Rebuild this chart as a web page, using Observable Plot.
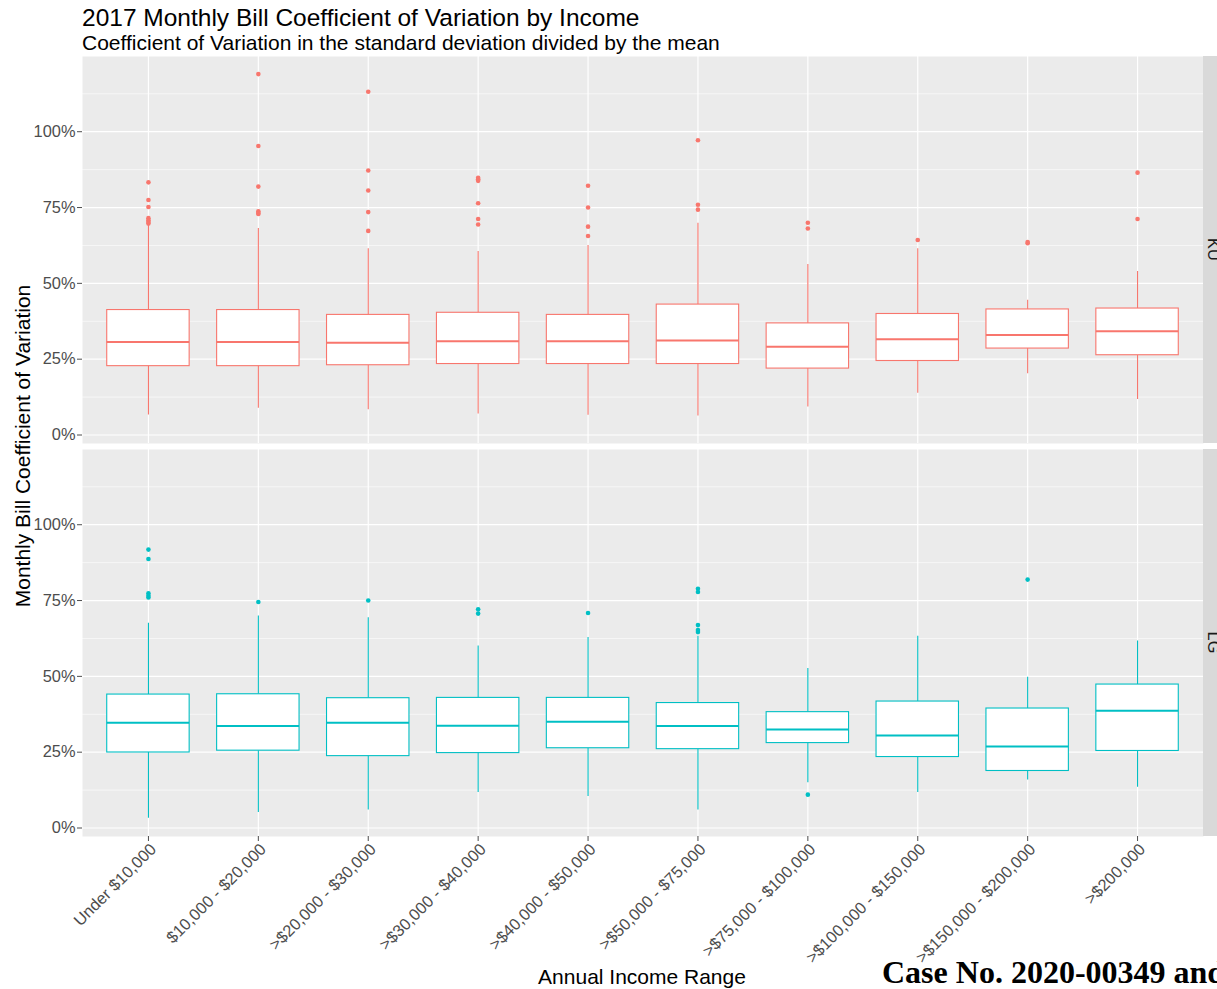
<!DOCTYPE html>
<html>
<head>
<meta charset="utf-8">
<script src="https://cdn.jsdelivr.net/npm/d3@7"></script>
<script src="https://cdn.jsdelivr.net/npm/@observablehq/plot@0.6"></script>
<style>
  html, body { margin: 0; padding: 0; background: #fff; }
  body { width: 1217px; height: 989px; overflow: hidden; position: relative; font-family: "Liberation Sans", Arial, sans-serif; }
  .t { position: absolute; white-space: nowrap; line-height: 1; color: #000; }
  #chart { position: absolute; left: 0; top: 52px; }
</style>
</head>
<body>
<div class="t" style="left:82px; top:6px; font-size:24.5px;">2017 Monthly Bill Coefficient of Variation by Income</div>
<div class="t" style="left:82px; top:32px; font-size:21px;">Coefficient of Variation in the standard deviation divided by the mean</div>
<div id="chart"></div>
<div class="t" style="left:642px; top:966px; font-size:21px; transform:translateX(-50%);">Annual Income Range</div>
<div class="t" style="left:882px; top:956px; font-size:32px; font-family:'Liberation Serif','Times New Roman',serif; font-weight:bold;">Case No. 2020-00349 and</div>
<script>
const categories = ["Under $10,000", "$10,000 - $20,000", ">$20,000 - $30,000", ">$30,000 - $40,000", ">$40,000 - $50,000", ">$50,000 - $75,000", ">$75,000 - $100,000", ">$100,000 - $150,000", ">$150,000 - $200,000", ">$200,000"];
const utilities = ["KU", "LG"];
const utilityColors = ["#F8766D", "#00BFC4"];
const yTicksMajor = [0, 0.25, 0.5, 0.75, 1];
const yTicksMinor = [0.125, 0.375, 0.625, 0.875, 1.125];

// KU
const kuLow = [0.066, 0.088, 0.083, 0.069, 0.065, 0.063, 0.092, 0.138, 0.202, 0.117];
const kuQ1  = [0.227, 0.227, 0.230, 0.234, 0.234, 0.234, 0.219, 0.244, 0.285, 0.263];
const kuMed = [0.307, 0.307, 0.304, 0.309, 0.309, 0.312, 0.291, 0.316, 0.330, 0.342];
const kuQ3  = [0.412, 0.412, 0.396, 0.403, 0.396, 0.430, 0.368, 0.399, 0.414, 0.417];
const kuHigh= [0.692, 0.681, 0.614, 0.605, 0.625, 0.698, 0.562, 0.614, 0.444, 0.539];
const kuOutliers = [
  [0.833, 0.775, 0.752, 0.715, 0.708, 0.702, 0.697],
  [1.19, 0.953, 0.819, 0.738, 0.732, 0.729],
  [1.132, 0.872, 0.806, 0.735, 0.673],
  [0.848, 0.843, 0.838, 0.764, 0.712, 0.694],
  [0.822, 0.750, 0.687, 0.656],
  [0.972, 0.759, 0.743],
  [0.700, 0.681],
  [0.643],
  [0.636, 0.632],
  [0.865, 0.712]
];

// LG
const lgLow = [0.032, 0.051, 0.059, 0.117, 0.104, 0.059, 0.149, 0.117, 0.158, 0.134];
const lgQ1  = [0.249, 0.255, 0.237, 0.247, 0.263, 0.260, 0.280, 0.234, 0.188, 0.254];
const lgMed = [0.347, 0.336, 0.347, 0.337, 0.350, 0.336, 0.325, 0.305, 0.269, 0.387];
const lgQ3  = [0.440, 0.441, 0.428, 0.429, 0.429, 0.412, 0.382, 0.417, 0.394, 0.473];
const lgHigh= [0.675, 0.699, 0.693, 0.600, 0.628, 0.632, 0.526, 0.632, 0.497, 0.617];
const lgOutliers = [
  [0.918, 0.887, 0.774, 0.766, 0.760],
  [0.745],
  [0.750],
  [0.721, 0.707],
  [0.709],
  [0.789, 0.778, 0.669, 0.653, 0.646],
  [0.110],
  [],
  [0.819],
  []
];

const series = {
  KU: {low: kuLow, q1: kuQ1, med: kuMed, q3: kuQ3, high: kuHigh, out: kuOutliers},
  LG: {low: lgLow, q1: lgQ1, med: lgMed, q3: lgQ3, high: lgHigh, out: lgOutliers}
};
const boxes = [];
const outliers = [];
for (const u of utilities) {
  const s = series[u];
  categories.forEach((c, i) => {
    boxes.push({utility: u, cat: c, low: s.low[i], q1: s.q1[i], med: s.med[i], q3: s.q3[i], high: s.high[i]});
    for (const v of s.out[i]) outliers.push({utility: u, cat: c, v});
  });
}

const W = 1217, H = 937;
const chart = Plot.plot({
  width: W, height: H,
  marginLeft: 82, marginRight: 14, marginTop: 4, marginBottom: 153,
  style: {fontFamily: "'Liberation Sans', Arial, sans-serif", background: "transparent"},
  x: {type: "band", domain: categories, paddingInner: 0.25, paddingOuter: 0.225, round: false, label: null},
  y: {domain: [-0.028, 1.248], label: null},
  fy: {domain: utilities, paddingInner: 0.0153, paddingOuter: 0, round: false, axis: null, label: null},
  color: {domain: utilities, range: utilityColors},
  marks: [
    Plot.frame({fill: "#EBEBEB", stroke: "none"}),
    Plot.ruleY(yTicksMinor, {stroke: "#fff", strokeWidth: 0.6}),
    Plot.ruleY(yTicksMajor, {stroke: "#fff", strokeWidth: 1.2}),
    Plot.ruleX(categories, {x: d => d, stroke: "#fff", strokeWidth: 1.2}),
    Plot.ruleX(boxes, {x: "cat", y1: "low", y2: "q1", fy: "utility", stroke: "utility", strokeWidth: 1.1}),
    Plot.ruleX(boxes, {x: "cat", y1: "q3", y2: "high", fy: "utility", stroke: "utility", strokeWidth: 1.1}),
    Plot.barY(boxes, {x: "cat", y1: "q1", y2: "q3", fy: "utility", fill: "#fff", stroke: "utility", strokeWidth: 1.1}),
    Plot.tickY(boxes, {x: "cat", y: "med", fy: "utility", stroke: "utility", strokeWidth: 2}),
    Plot.dot(outliers, {x: "cat", y: "v", fy: "utility", fill: "utility", r: 2.3, stroke: "none"}),
    Plot.axisY({ticks: yTicksMajor, tickFormat: d3.format(".0%"), tickSize: 5, tickPadding: 2, fontSize: 16.4, color: "#4D4D4D", label: null}),
    Plot.axisX({ticks: categories, tickSize: 5, stroke: "#4D4D4D", text: null, label: null}),
    Plot.axisX({tickRotate: -45, tickSize: 0, tickPadding: 7, dx: 5, dy: 3, fontSize: 16.4, fill: "#4D4D4D", label: null})
  ]
});

document.getElementById("chart").appendChild(chart);

// facet strips on the right
const svg = d3.select(chart);
const fy = chart.scale("fy");
const xr = chart.scale("x").range;
const xRight = Math.max(xr[0], xr[1]);
for (const k of fy.domain) {
  const y0 = fy.apply(k);
  svg.append("rect").attr("x", xRight).attr("y", y0).attr("width", 30).attr("height", fy.bandwidth).attr("fill", "#D9D9D9");
  svg.append("text")
    .attr("transform", `translate(${xRight + 11},${y0 + fy.bandwidth / 2}) rotate(90)`)
    .attr("text-anchor", "middle")
    .attr("dy", "0.36em")
    .attr("font-size", 16.4)
    .attr("fill", "#1A1A1A")
    .text(k);
}
// y axis title
svg.append("text")
  .attr("transform", `translate(30,${(fy.apply(fy.domain[0]) + fy.apply(fy.domain[1]) + fy.bandwidth) / 2}) rotate(-90)`)
  .attr("text-anchor", "middle")
  .attr("font-size", 21)
  .attr("fill", "#000")
  .text("Monthly Bill Coefficient of Variation");
</script>
</body>
</html>
